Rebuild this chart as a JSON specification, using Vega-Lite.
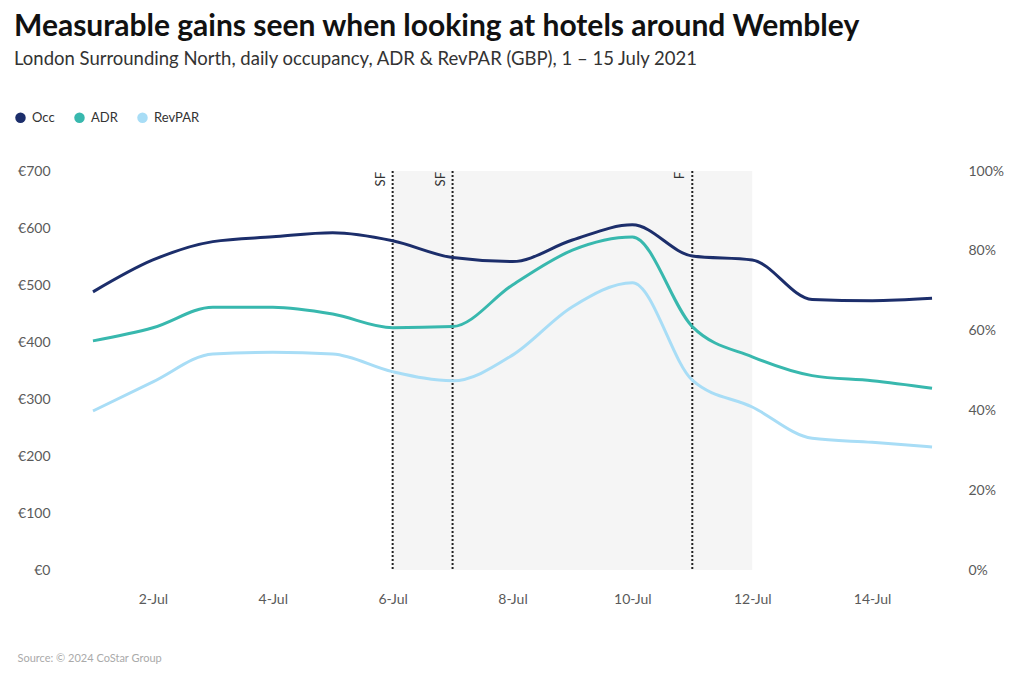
{
  "$schema": "https://vega.github.io/schema/vega-lite/v6.json",
  "width": 899,
  "height": 399,
  "autosize": {"type": "none"},
  "padding": {"top": 171, "left": 63, "right": 62, "bottom": 107},
  "background": "white",
  "title": {
    "text": "Measurable gains seen when looking at hotels around Wembley",
    "subtitle": "London Surrounding North, daily occupancy, ADR & RevPAR (GBP), 1 – 15 July 2021",
    "anchor": "start",
    "frame": "bounds",
    "font": "Lato",
    "fontSize": 30,
    "fontWeight": "bold",
    "color": "#111111",
    "subtitleFont": "Lato",
    "subtitleFontSize": 18.5,
    "subtitleColor": "#333333",
    "subtitlePadding": 8,
    "offset": 43
  },
  "config": {
    "view": {"stroke": null},
    "font": "Lato",
    "axis": {"grid": false, "domain": false, "ticks": false, "tickSize": 0, "labelFont": "Lato", "labelFontSize": 14, "labelColor": "#5a5a5a"}
  },
  "datasets": {
    "series": [
      {"date": "2021-07-01", "metric": "Occ", "value": 69.7},
      {"date": "2021-07-02", "metric": "Occ", "value": 77.7},
      {"date": "2021-07-03", "metric": "Occ", "value": 82.3},
      {"date": "2021-07-04", "metric": "Occ", "value": 83.5},
      {"date": "2021-07-05", "metric": "Occ", "value": 84.5},
      {"date": "2021-07-06", "metric": "Occ", "value": 82.5},
      {"date": "2021-07-07", "metric": "Occ", "value": 78.3},
      {"date": "2021-07-08", "metric": "Occ", "value": 77.3},
      {"date": "2021-07-09", "metric": "Occ", "value": 82.7},
      {"date": "2021-07-10", "metric": "Occ", "value": 86.5},
      {"date": "2021-07-11", "metric": "Occ", "value": 78.7},
      {"date": "2021-07-12", "metric": "Occ", "value": 77.7},
      {"date": "2021-07-13", "metric": "Occ", "value": 67.8},
      {"date": "2021-07-14", "metric": "Occ", "value": 67.5},
      {"date": "2021-07-15", "metric": "Occ", "value": 68.1},
      {"date": "2021-07-01", "metric": "ADR", "value": 402},
      {"date": "2021-07-02", "metric": "ADR", "value": 425},
      {"date": "2021-07-03", "metric": "ADR", "value": 461},
      {"date": "2021-07-04", "metric": "ADR", "value": 461},
      {"date": "2021-07-05", "metric": "ADR", "value": 449},
      {"date": "2021-07-06", "metric": "ADR", "value": 425},
      {"date": "2021-07-07", "metric": "ADR", "value": 427},
      {"date": "2021-07-08", "metric": "ADR", "value": 500},
      {"date": "2021-07-09", "metric": "ADR", "value": 561},
      {"date": "2021-07-10", "metric": "ADR", "value": 584},
      {"date": "2021-07-11", "metric": "ADR", "value": 427},
      {"date": "2021-07-12", "metric": "ADR", "value": 374},
      {"date": "2021-07-13", "metric": "ADR", "value": 341},
      {"date": "2021-07-14", "metric": "ADR", "value": 332},
      {"date": "2021-07-15", "metric": "ADR", "value": 319},
      {"date": "2021-07-01", "metric": "RevPAR", "value": 279},
      {"date": "2021-07-02", "metric": "RevPAR", "value": 330},
      {"date": "2021-07-03", "metric": "RevPAR", "value": 379},
      {"date": "2021-07-04", "metric": "RevPAR", "value": 382},
      {"date": "2021-07-05", "metric": "RevPAR", "value": 379},
      {"date": "2021-07-06", "metric": "RevPAR", "value": 348},
      {"date": "2021-07-07", "metric": "RevPAR", "value": 332},
      {"date": "2021-07-08", "metric": "RevPAR", "value": 377},
      {"date": "2021-07-09", "metric": "RevPAR", "value": 462},
      {"date": "2021-07-10", "metric": "RevPAR", "value": 504},
      {"date": "2021-07-11", "metric": "RevPAR", "value": 333},
      {"date": "2021-07-12", "metric": "RevPAR", "value": 286},
      {"date": "2021-07-13", "metric": "RevPAR", "value": 231},
      {"date": "2021-07-14", "metric": "RevPAR", "value": 224},
      {"date": "2021-07-15", "metric": "RevPAR", "value": 216}
    ],
    "events": [
      {"date": "2021-07-06", "label": "SF"},
      {"date": "2021-07-07", "label": "SF"},
      {"date": "2021-07-11", "label": "F"}
    ],
    "band": [
      {"date": "2021-07-06", "end": "2021-07-12"}
    ]
  },
  "encoding": {
    "x": {
      "field": "date",
      "type": "temporal",
      "scale": {
        "type": "utc",
        "domain": [
          {"year": 2021, "month": "jun", "date": 30, "hours": 12, "utc": true},
          {"year": 2021, "month": "jul", "date": 15, "hours": 12, "utc": true}
        ]
      },
      "axis": {
        "title": "Source: © 2024 CoStar Group",
        "titleX": -46,
        "titleY": 88,
        "titleAlign": "left",
        "titleAnchor": "start",
        "titleBaseline": "middle",
        "titleFont": "Lato",
        "titleFontSize": 11,
        "titleFontWeight": "normal",
        "titleColor": "#aaaaaa",
        "format": "%-d-%b",
        "labelPadding": 22,
        "values": [
          {"year": 2021, "month": "jul", "date": 2, "utc": true},
          {"year": 2021, "month": "jul", "date": 4, "utc": true},
          {"year": 2021, "month": "jul", "date": 6, "utc": true},
          {"year": 2021, "month": "jul", "date": 8, "utc": true},
          {"year": 2021, "month": "jul", "date": 10, "utc": true},
          {"year": 2021, "month": "jul", "date": 12, "utc": true},
          {"year": 2021, "month": "jul", "date": 14, "utc": true}
        ]
      }
    }
  },
  "layer": [
    {
      "layer": [
        {
          "data": {"name": "band"},
          "mark": {"type": "rect", "color": "#f5f5f5"},
          "encoding": {"x2": {"field": "end"}}
        },
        {
          "data": {"name": "events"},
          "mark": {"type": "rule", "color": "#222222", "strokeWidth": 2, "strokeDash": [2, 2]},
          "encoding": {}
        },
        {
          "data": {"name": "events"},
          "mark": {"type": "text", "angle": -90, "align": "right", "baseline": "bottom", "dx": -1, "dy": -5, "fontSize": 13, "font": "Lato", "color": "#333333"},
          "encoding": {
            "text": {"field": "label"},
            "y": {"datum": 700, "type": "quantitative"}
          }
        },
        {
          "data": {"name": "series"},
          "transform": [{"filter": "datum.metric !== 'Occ'"}],
          "mark": {"type": "line", "interpolate": "monotone", "strokeWidth": 3},
          "encoding": {
            "y": {
              "field": "value",
              "type": "quantitative",
              "scale": {"domain": [0, 700], "nice": false},
              "axis": {"title": null, "values": [0, 100, 200, 300, 400, 500, 600, 700], "labelExpr": "'€' + datum.value", "labelPadding": 13}
            },
            "color": {
              "field": "metric",
              "type": "nominal",
              "scale": {"domain": ["Occ", "ADR", "RevPAR"], "range": ["#1c2e6b", "#38b8ae", "#a8ddf6"]},
              "legend": {
                "title": null,
                "orient": "none",
                "legendX": -49,
                "legendY": -60,
                "direction": "horizontal",
                "symbolType": "circle",
                "symbolSize": 110,
                "labelFont": "Lato",
                "labelFontSize": 13,
                "labelColor": "#333333",
                "columnPadding": 18,
                "labelOffset": 5,
                "encode": {
                  "symbols": {
                    "update": {
                      "fill": {"scale": "color", "field": "value"},
                      "stroke": {"value": "transparent"},
                      "strokeWidth": {"value": 0}
                    }
                  }
                }
              }
            }
          }
        }
      ]
    },
    {
      "data": {"name": "series"},
      "transform": [{"filter": "datum.metric === 'Occ'"}],
      "mark": {"type": "line", "interpolate": "monotone", "strokeWidth": 3},
      "encoding": {
        "y": {
          "field": "value",
          "type": "quantitative",
          "scale": {"domain": [0, 100], "nice": false},
          "axis": {"orient": "right", "title": null, "values": [0, 20, 40, 60, 80, 100], "labelExpr": "datum.value + '%'", "labelPadding": 6}
        },
        "color": {"field": "metric", "type": "nominal"}
      }
    }
  ],
  "resolve": {"scale": {"y": "independent"}}
}
